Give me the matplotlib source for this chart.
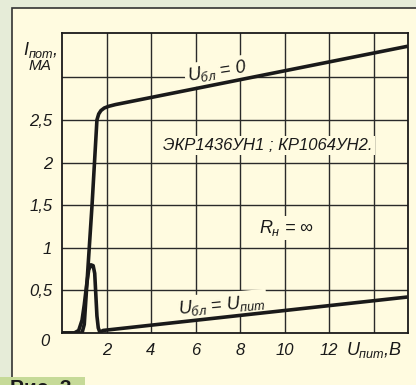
import matplotlib
matplotlib.use('Agg')
import matplotlib.pyplot as plt
from matplotlib.patches import Rectangle

plt.rcParams['font.family'] = ['Liberation Sans', 'DejaVu Sans']
plt.rcParams['font.style'] = 'italic'
plt.rcParams['mathtext.fontset'] = 'custom'
plt.rcParams['mathtext.it'] = 'Liberation Sans:italic'
plt.rcParams['mathtext.rm'] = 'Liberation Sans:italic'

# curve U_bl = 0
u_zero = [0, 0.9, 1.0, 1.1, 1.35, 1.57, 1.65, 1.75, 1.9, 2.1, 2.4, 15.45]
i_zero = [0, 0, 0.1, 0.5, 1.5, 2.5, 2.57, 2.61, 2.64, 2.66, 2.68, 3.36]
# curve U_bl = U_pit
u_pit = [0, 0.55, 0.75, 0.9, 1.0, 1.1, 1.2, 1.3, 1.4, 1.47, 1.52, 1.57, 1.63, 1.7, 1.85, 15.45]
i_pit = [0, 0, 0.03, 0.15, 0.33, 0.55, 0.74, 0.8, 0.79, 0.7, 0.45, 0.2, 0.06, 0.01, 0.03, 0.42]

xticks = [2, 4, 6, 8, 10, 12, 14]
xlabels = ['2', '4', '6', '8', '10', '12', '']
yticks = [0.5, 1, 1.5, 2, 2.5, 3]
ylabels = ['0,5', '1', '1,5', '2', '2,5', '']

cream = '#fffbe0'
outer = '#e6ecd8'
green = '#c6da98'
ink = '#1a1a1a'

fig = plt.figure(figsize=(4.16, 3.85), dpi=100, facecolor=outer)
fig.patches.append(Rectangle((12/416, -0.1), 1.2, (385-8)/385 + 0.1, transform=fig.transFigure,
                             fc=cream, ec='#333333', lw=1.2, zorder=-10))
fig.patches.append(Rectangle((0, 0), 85/416, 8/385, transform=fig.transFigure,
                             fc=green, ec='none', zorder=-9))
fig.text(10/416, -0.01, 'Рис. 3', fontsize=15, fontweight='bold', fontstyle='normal',
         color=ink, va='center', ha='left')

ax = fig.add_axes([62/416, 52/385, 346/416, 300/385])
ax.set_zorder(2)
ax.patch.set_alpha(0)
ax.set_xlim(0, 15.55)
ax.set_ylim(0, 3.52)
ax.set_xticks(xticks)
ax.set_xticklabels(xlabels)
ax.set_yticks(yticks)
ax.set_yticklabels(ylabels)
ax.tick_params(length=0, labelsize=12, pad=7, colors=ink)
ax.grid(True, color='#2a2a2a', lw=1.0)
for s in ax.spines.values():
    s.set_color(ink)
    s.set_linewidth(1.3)

ax.plot(u_zero, i_zero, color=ink, lw=2.6, solid_joinstyle='round', zorder=4)
ax.plot(u_pit, i_pit, color=ink, lw=2.6, solid_joinstyle='round', zorder=4)

ax.text(-0.55, -0.1, '0', fontsize=12, ha='right', va='center', color=ink)
ax.text(14.05, -0.2, '$U_{пит}$,В', fontsize=13, ha='center', va='center', color=ink)
fig.text(40/416, (385-50)/385, '$I_{пот}$,', fontsize=13, ha='center', va='center', color=ink)
fig.text(40/416, (385-66)/385, 'МА', fontsize=11, ha='center', va='center', color=ink)

box = dict(fc=cream, ec='none', pad=1.5)
ax.text(6.95, 3.07, '$U_{бл}$ = 0', fontsize=13, ha='center', va='center', rotation=9,
        color=ink, bbox=box, zorder=3)
ax.text(9.25, 2.2, 'ЭКР1436УН1 ; КР1064УН2.', fontsize=12, ha='center', va='center',
        color=ink, bbox=box, zorder=3)
ax.text(10.1, 1.23, '$R_н$ = ∞', fontsize=13, ha='center', va='center',
        color=ink, bbox=box, zorder=3)
ax.text(7.15, 0.33, '$U_{бл}$ = $U_{пит}$', fontsize=13, ha='center', va='center', rotation=5,
        color=ink, bbox=box, zorder=3)

fig.savefig('out.png', dpi=100, facecolor=outer)
